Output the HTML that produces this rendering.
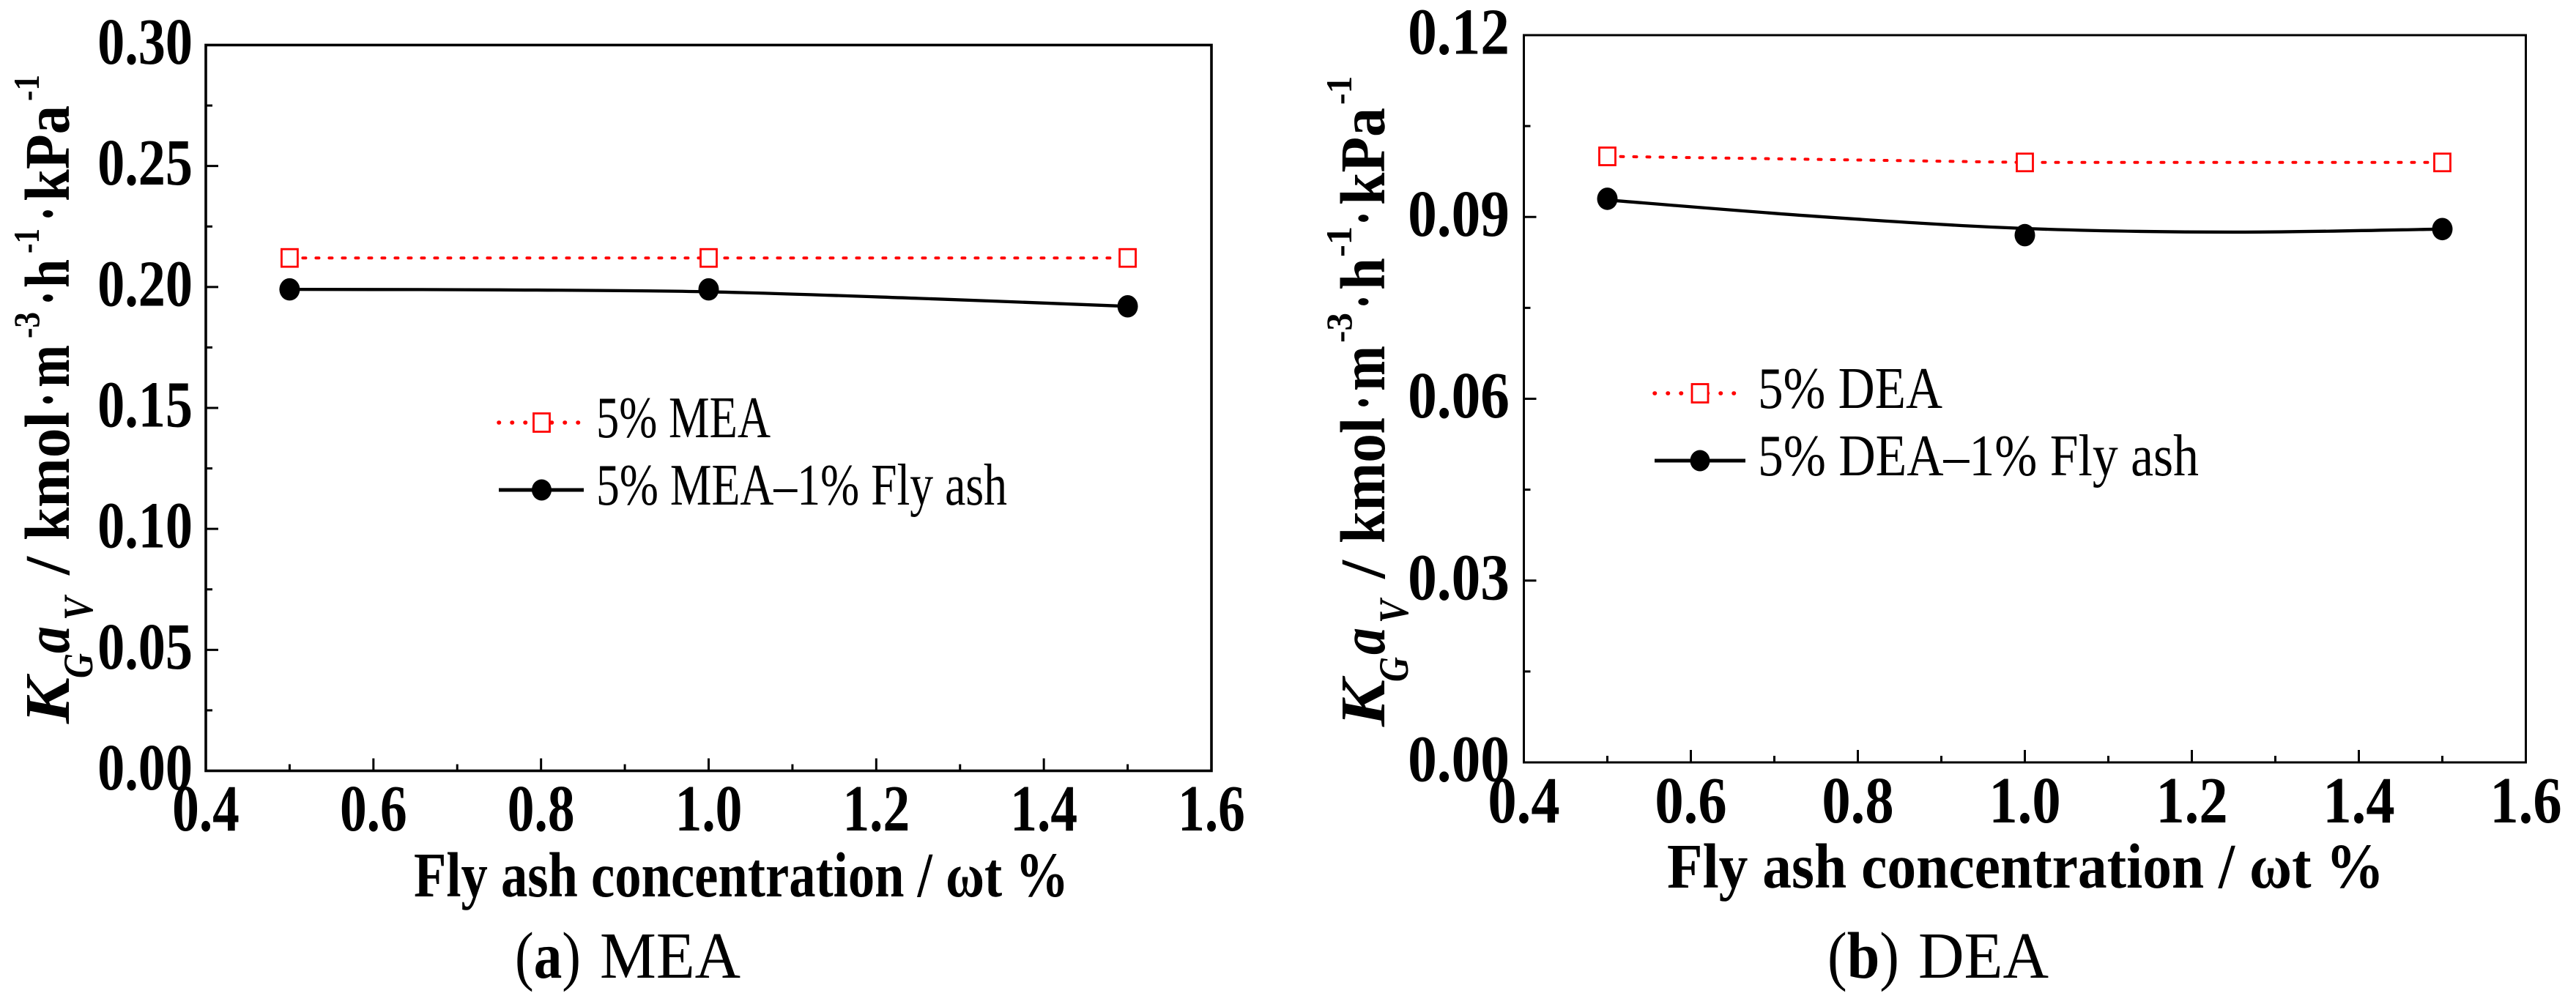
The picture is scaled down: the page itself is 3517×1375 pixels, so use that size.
<!DOCTYPE html>
<html lang="en">
<head>
<meta charset="utf-8">
<title>KGaV versus fly ash concentration for MEA and DEA</title>
<style>
html,body{margin:0;padding:0;background:#fff;width:3517px;height:1375px;overflow:hidden}
svg{display:block}
text{font-family:"Liberation Serif","DejaVu Serif",serif;fill:#000}
</style>
</head>
<body>
<svg id="figure" xmlns="http://www.w3.org/2000/svg" width="3517" height="1375" viewBox="0 0 3517 1375"></svg>
<script>
const concentrations = [0.5, 1.0, 1.5];
const fitConcentrations = [0.5, 0.75, 1.0, 1.25, 1.5];
const xTickValues = [0.4, 0.6, 0.8, 1.0, 1.2, 1.4, 1.6];
const xTickLabels = ["0.4", "0.6", "0.8", "1.0", "1.2", "1.4", "1.6"];

const meaPlain = [0.212, 0.212, 0.212];
const meaFlyAsh = [0.199, 0.199, 0.192];
const meaFlyAshFit = [0.199, 0.1988, 0.198, 0.1953, 0.192];
const meaYTickValues = [0, 0.05, 0.10, 0.15, 0.20, 0.25, 0.30];
const meaYTickLabels = ["0.00", "0.05", "0.10", "0.15", "0.20", "0.25", "0.30"];

const deaPlain = [0.100, 0.099, 0.099];
const deaFlyAsh = [0.093, 0.087, 0.088];
const deaFlyAshFit = [0.0928, 0.0901, 0.0881, 0.0875, 0.0880];
const deaYTickValues = [0, 0.03, 0.06, 0.09, 0.12];
const deaYTickLabels = ["0.00", "0.03", "0.06", "0.09", "0.12"];

const NS = "http://www.w3.org/2000/svg";
const root = document.getElementById("figure");

function shape(parent, tag, attrs, name) {
  const el = document.createElementNS(NS, tag);
  for (const k in attrs) el.setAttribute(k, attrs[k]);
  
  
  parent.appendChild(el);
  return el;
}
function label(parent, str, attrs, name) {
  const el = shape(parent, "text", attrs, name);
  el.textContent = str;
  return el;
}
function fitted(parent, str, x, y, len, size, weight, style, name) {
  return label(parent, str, {
    x: x, y: y, "font-size": size, "font-weight": weight, "font-style": style,
    textLength: len, lengthAdjust: "spacingAndGlyphs"
  }, name);
}
function vertical(parent, str, xb, bottom, top, size, weight, style, name) {
  return label(parent, str, {
    transform: "translate(" + xb + "," + bottom + ") rotate(-90)",
    "font-size": size, "font-weight": weight, "font-style": style,
    textLength: bottom - top, lengthAdjust: "spacingAndGlyphs"
  }, name);
}
function splinePath(pts) {
  let d = "M" + pts[0][0] + " " + pts[0][1];
  for (let i = 0; i < pts.length - 1; i++) {
    const p0 = pts[Math.max(i - 1, 0)], p1 = pts[i], p2 = pts[i + 1], p3 = pts[Math.min(i + 2, pts.length - 1)];
    d += " C" + (p1[0] + (p2[0] - p0[0]) / 6) + " " + (p1[1] + (p2[1] - p0[1]) / 6) + " " +
      (p2[0] - (p3[0] - p1[0]) / 6) + " " + (p2[1] - (p3[1] - p1[1]) / 6) + " " + p2[0] + " " + p2[1];
  }
  return d;
}

function drawPanel(p) {
  const g = shape(root, "g", {}, p.id + "-panel");
  const xs = v => p.left + (v - 0.4) / 1.2 * (p.right - p.left);
  const ys = v => p.bottom - v / p.yMax * (p.bottom - p.top);

  /* axes frame */
  shape(g, "rect", { x: p.left, y: p.top, width: p.right - p.left, height: p.bottom - p.top, fill: "none", stroke: "#000", "stroke-width": p.frame }, p.id + "-plot-frame");

  /* x ticks */
  xTickValues.forEach((v, i) => {
    shape(g, "line", { x1: xs(v), x2: xs(v), y1: p.bottom, y2: p.bottom - 17, stroke: "#000", "stroke-width": 3 }, p.id + "-x-major-tick");
    label(g, xTickLabels[i], {
      transform: "translate(" + xs(v) + "," + p.xLabelY + ") scale(" + p.xScale + ",1)",
      "text-anchor": "middle", "font-size": 90, "font-weight": "bold"
    }, p.id + "-x-tick-label");
    if (i < xTickValues.length - 1) {
      const m = (v + xTickValues[i + 1]) / 2;
      shape(g, "line", { x1: xs(m), x2: xs(m), y1: p.bottom, y2: p.bottom - 9, stroke: "#000", "stroke-width": 3 }, p.id + "-x-minor-tick");
    }
  });
  /* y ticks */
  p.yVals.forEach((v, i) => {
    shape(g, "line", { x1: p.left, x2: p.left + 17, y1: ys(v), y2: ys(v), stroke: "#000", "stroke-width": 3 }, p.id + "-y-major-tick");
    label(g, p.yLabels[i], {
      transform: "translate(" + p.yLabelX + "," + (ys(v) + 25.5) + ") scale(" + p.yScale + ",1)",
      "text-anchor": "end", "font-size": 90, "font-weight": "bold"
    }, p.id + "-y-tick-label");
    if (i < p.yVals.length - 1) {
      const m = (v + p.yVals[i + 1]) / 2;
      shape(g, "line", { x1: p.left, x2: p.left + 9, y1: ys(m), y2: ys(m), stroke: "#000", "stroke-width": 3 }, p.id + "-y-minor-tick");
    }
  });

  /* series: plain solvent */
  const plainPts = concentrations.map((c, i) => [xs(c), ys(p.plain[i])]);
  shape(g, "path", { d: "M" + plainPts.map(q => q.join(" ")).join(" L"), fill: "none", stroke: "#f00", "stroke-width": 4, "stroke-dasharray": "4 14", "stroke-linecap": "round" }, p.id + "-plain-line");
  plainPts.forEach(q => {
    shape(g, "rect", { x: q[0] - 11, y: q[1] - 12, width: 22, height: 24, fill: "#fff", stroke: "#f00", "stroke-width": 2.8 }, p.id + "-plain-marker");
  });

  /* series: solvent with fly ash */
  const fitPts = fitConcentrations.map((c, i) => [xs(c), ys(p.fit[i])]);
  shape(g, "path", { d: splinePath(fitPts), fill: "none", stroke: "#000", "stroke-width": 4.3 }, p.id + "-flyash-line");
  concentrations.forEach((c, i) => {
    shape(g, "ellipse", { cx: xs(c), cy: ys(p.ash[i]), rx: 14, ry: 15.3, fill: "#000" }, p.id + "-flyash-marker");
  });

  /* legend */
  const L = p.legend;
  shape(g, "line", { x1: L.x1, x2: L.x2, y1: L.y1, y2: L.y1, stroke: "#f00", "stroke-width": 5.5, "stroke-dasharray": "0.5 17.5", "stroke-linecap": "round" }, p.id + "-legend-plain-line");
  shape(g, "rect", { x: L.cx - 11, y: L.y1 - 12.5, width: 22, height: 25, fill: "#fff", stroke: "#f00", "stroke-width": 2.8 }, p.id + "-legend-plain-marker");
  fitted(g, L.t1, L.tx, L.y1 + 20, L.w1, 80, "normal", "normal", p.id + "-legend-plain-label");
  shape(g, "line", { x1: L.x1, x2: L.x2 + 4, y1: L.y2, y2: L.y2, stroke: "#000", "stroke-width": 5 }, p.id + "-legend-flyash-line");
  shape(g, "ellipse", { cx: L.cx, cy: L.y2, rx: 13.5, ry: 14.5, fill: "#000" }, p.id + "-legend-flyash-marker");
  fitted(g, L.t2, L.tx, L.y2 + 20, L.w2, 80, "normal", "normal", p.id + "-legend-flyash-label");

  /* axis titles */
  fitted(g, "Fly ash concentration / \u03C9t %", p.titleX, p.titleY, p.titleW, 87, "bold", "normal", p.id + "-x-axis-title");
  const yt = shape(g, "g", {}, p.id + "-y-axis-title");
  p.yRuns.forEach(r => {
    const isSup = r[4] === "sup", isSub = r[4] === "sub";
    const xb = isSup ? p.supX : isSub ? p.subX : p.baseX;
    const size = isSup ? 50 : isSub ? 57 : 87;
    vertical(yt, r[0], xb, r[1], r[2], size, "bold", r[3] ? "italic" : "normal", p.id + "-y-title-run");
  });

  /* caption */
  const c = shape(g, "text", { x: p.capX, y: 1335, "font-size": 90, textLength: p.capW, lengthAdjust: "spacingAndGlyphs" }, p.id + "-caption-letter");
  c.appendChild(document.createTextNode("("));
  const b = shape(c, "tspan", { "font-weight": "bold" }, p.id + "-caption-letter-bold");
  b.textContent = p.capLetter;
  c.appendChild(document.createTextNode(")"));
  fitted(g, p.capName, p.capNameX, 1335, p.capNameW, 90, "normal", "normal", p.id + "-caption-name");
}

drawPanel({
  id: "mea", left: 281, right: 1654, top: 61.5, bottom: 1052.5, frame: 3.6, yMax: 0.30,
  yVals: meaYTickValues, yLabels: meaYTickLabels, plain: meaPlain, ash: meaFlyAsh, fit: meaFlyAshFit,
  xLabelY: 1134, xScale: 0.816, yLabelX: 263, yScale: 0.825,
  legend: { x1: 681, x2: 793, cx: 739.5, y1: 577, y2: 669, tx: 814, t1: "5% MEA", w1: 238, t2: "5% MEA\u20131% Fly ash", w2: 561 },
  titleX: 565, titleY: 1224, titleW: 894,
  baseX: 94, supX: 53, subX: 126,
  yRuns: [
    ["K", 988, 925, true], ["G", 926, 892, true, "sub"], ["a", 892, 855, true], ["V", 847, 815, true, "sub"],
    ["/", 785, 760], ["kmol", 738, 562], ["\u00B7", 556, 536], ["m", 529, 471],
    ["-3", 462, 426, false, "sup"], ["\u00B7", 417, 397], ["h", 393, 354], ["-1", 346, 312, false, "sup"],
    ["\u00B7", 302, 282], ["kPa", 275, 144], ["-1", 138, 102, false, "sup"]
  ],
  capX: 703, capW: 90, capLetter: "a", capName: "MEA", capNameX: 819, capNameW: 192
});

drawPanel({
  id: "dea", left: 2080.5, right: 3448.5, top: 48, bottom: 1041, frame: 3, yMax: 0.12,
  yVals: deaYTickValues, yLabels: deaYTickLabels, plain: deaPlain, ash: deaFlyAsh, fit: deaFlyAshFit,
  xLabelY: 1123, xScale: 0.873, yLabelX: 2061, yScale: 0.882,
  legend: { x1: 2259, x2: 2379, cx: 2321, y1: 537, y2: 629, tx: 2400, t1: "5% DEA", w1: 252, t2: "5% DEA\u20131% Fly ash", w2: 602 },
  titleX: 2276, titleY: 1212, titleW: 979,
  baseX: 1890, supX: 1845, subX: 1922,
  yRuns: [
    ["K", 992, 928, true], ["G", 931, 897, true, "sub"], ["a", 894, 857, true], ["V", 851, 819, true, "sub"],
    ["/", 790, 765], ["kmol", 742, 570], ["\u00B7", 560, 540], ["m", 534, 472],
    ["-3", 468, 427, false, "sup"], ["\u00B7", 422, 402], ["h", 396, 352], ["-1", 351, 309, false, "sup"],
    ["\u00B7", 308, 288], ["kPa", 280, 147], ["-1", 143, 104, false, "sup"]
  ],
  capX: 2495, capW: 98, capLetter: "b", capName: "DEA", capNameX: 2619, capNameW: 178
});
</script>
</body>
</html>
